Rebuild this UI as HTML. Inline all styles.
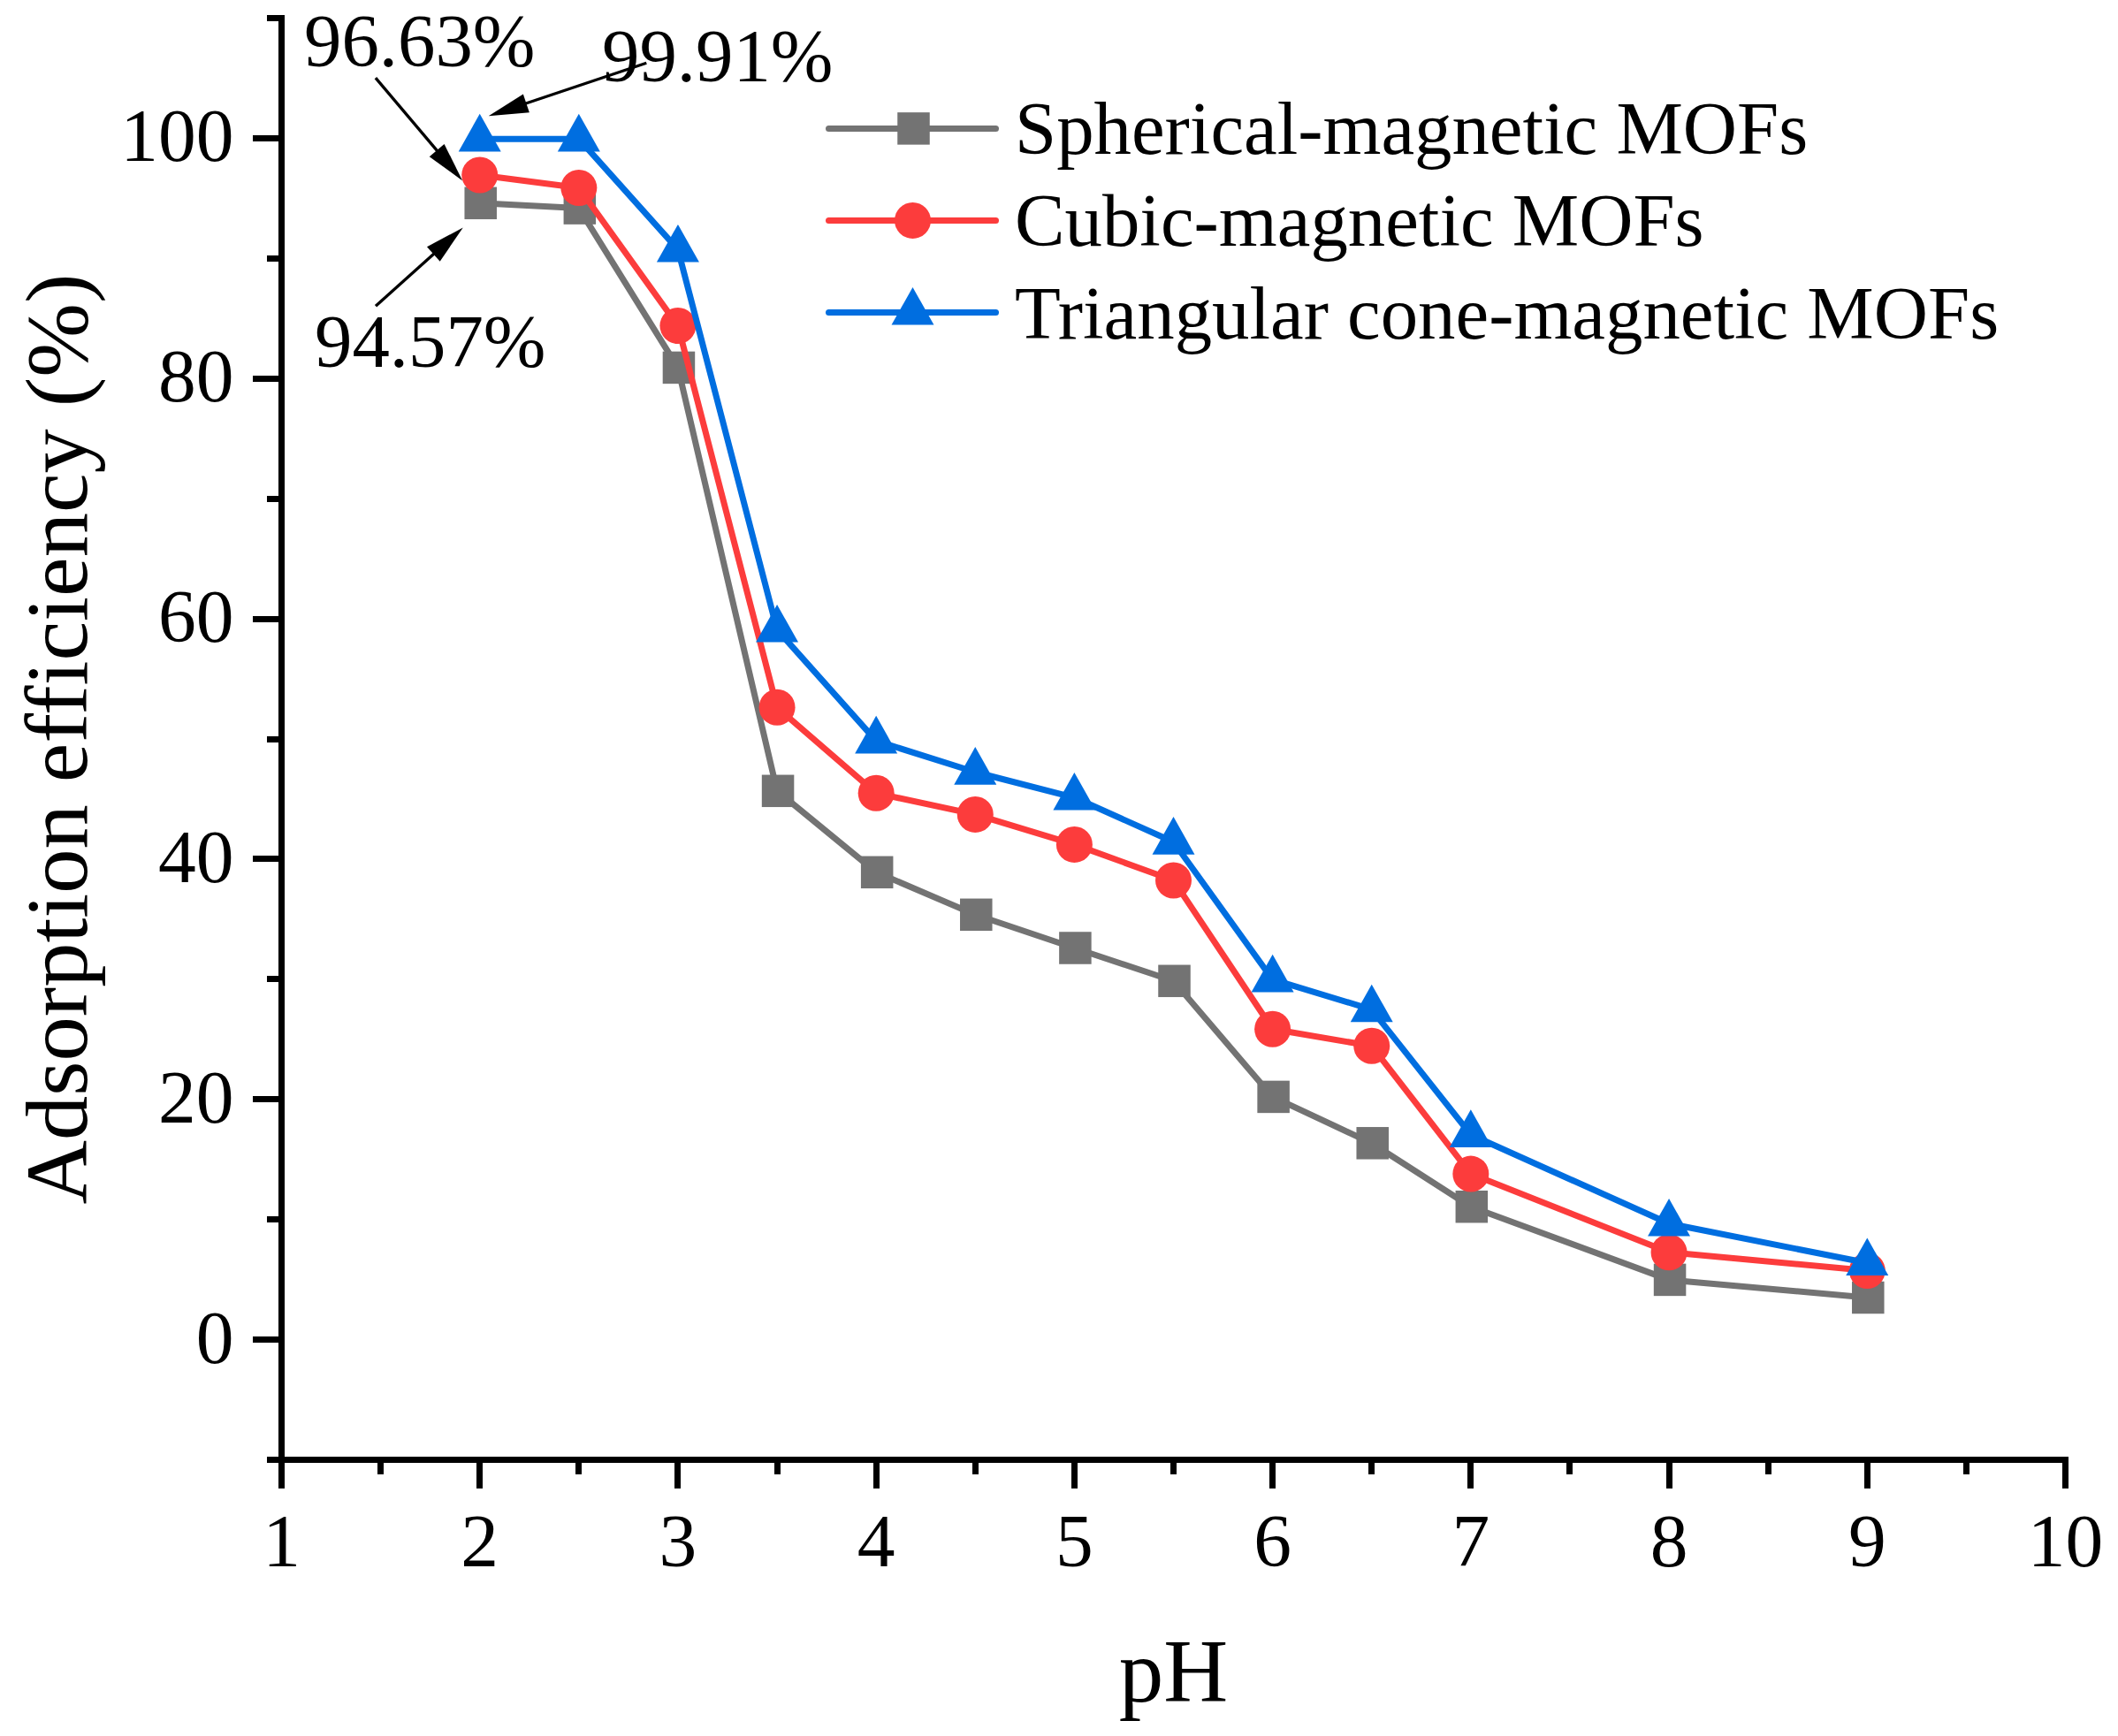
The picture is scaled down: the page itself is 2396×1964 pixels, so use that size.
<!DOCTYPE html>
<html><head><meta charset="utf-8"><title>Adsorption efficiency vs pH</title>
<style>
html,body{margin:0;padding:0;background:#fff;}
body{width:2396px;height:1964px;overflow:hidden;}
svg{display:block;}
text{font-family:'Liberation Serif','Times New Roman',serif;fill:#000;}
</style></head><body>
<svg width="2396" height="1964" viewBox="0 0 2396 1964">
<rect width="2396" height="1964" fill="#fff"/>

<g fill="#000" shape-rendering="crispEdges">
<rect x="315" y="17" width="7" height="1638"/>
<rect x="315" y="1648" width="2025" height="7"/>
<rect x="302" y="1648.02" width="13" height="7"/>
<rect x="286" y="1512.10" width="29" height="7"/>
<rect x="302" y="1376.18" width="13" height="7"/>
<rect x="286" y="1240.27" width="29" height="7"/>
<rect x="302" y="1104.35" width="13" height="7"/>
<rect x="286" y="968.43" width="29" height="7"/>
<rect x="302" y="832.51" width="13" height="7"/>
<rect x="286" y="696.60" width="29" height="7"/>
<rect x="302" y="560.68" width="13" height="7"/>
<rect x="286" y="424.76" width="29" height="7"/>
<rect x="302" y="288.85" width="13" height="7"/>
<rect x="286" y="152.93" width="29" height="7"/>
<rect x="302" y="17.01" width="13" height="7"/>
<rect x="315.00" y="1655" width="7" height="29"/>
<rect x="427.11" y="1655" width="7" height="13"/>
<rect x="539.22" y="1655" width="7" height="29"/>
<rect x="651.33" y="1655" width="7" height="13"/>
<rect x="763.44" y="1655" width="7" height="29"/>
<rect x="875.56" y="1655" width="7" height="13"/>
<rect x="987.67" y="1655" width="7" height="29"/>
<rect x="1099.78" y="1655" width="7" height="13"/>
<rect x="1211.89" y="1655" width="7" height="29"/>
<rect x="1324.00" y="1655" width="7" height="13"/>
<rect x="1436.11" y="1655" width="7" height="29"/>
<rect x="1548.22" y="1655" width="7" height="13"/>
<rect x="1660.33" y="1655" width="7" height="29"/>
<rect x="1772.44" y="1655" width="7" height="13"/>
<rect x="1884.56" y="1655" width="7" height="29"/>
<rect x="1996.67" y="1655" width="7" height="13"/>
<rect x="2108.78" y="1655" width="7" height="29"/>
<rect x="2220.89" y="1655" width="7" height="13"/>
<rect x="2333.00" y="1655" width="7" height="29"/>
</g>
<g font-size="85.5" text-anchor="middle">
<text x="318.50" y="1772">1</text>
<text x="542.72" y="1772">2</text>
<text x="766.94" y="1772">3</text>
<text x="991.17" y="1772">4</text>
<text x="1215.39" y="1772">5</text>
<text x="1439.61" y="1772">6</text>
<text x="1663.83" y="1772">7</text>
<text x="1888.06" y="1772">8</text>
<text x="2112.28" y="1772">9</text>
<text x="2336.50" y="1772">10</text>
</g>
<g font-size="85.5" text-anchor="end">
<text x="264.5" y="1541.60">0</text>
<text x="264.5" y="1269.77">20</text>
<text x="264.5" y="997.93">40</text>
<text x="264.5" y="726.10">60</text>
<text x="264.5" y="454.26">80</text>
<text x="264.5" y="182.43">100</text>
</g>
<text x="1327.5" y="1925" font-size="101" text-anchor="middle">pH</text>
<text transform="translate(98,836) rotate(-90)" font-size="100.5" text-anchor="middle">Adsorption efficiency (%)</text>
<polyline points="542.72,229.80 654.83,235.60 766.94,415.90 879.06,894.80 991.17,986.80 1103.28,1034.80 1215.39,1072.50 1327.50,1109.80 1439.61,1240.90 1551.72,1293.30 1663.83,1365.20 1888.06,1447.90 2112.28,1468.00" fill="none" stroke="#737373" stroke-width="7" stroke-linejoin="round" stroke-linecap="round"/>
<g fill="#737373">
<rect x="525.47" y="211.55" width="36.5" height="36.5"/>
<rect x="637.58" y="217.35" width="36.5" height="36.5"/>
<rect x="749.69" y="397.65" width="36.5" height="36.5"/>
<rect x="861.81" y="876.55" width="36.5" height="36.5"/>
<rect x="973.92" y="968.55" width="36.5" height="36.5"/>
<rect x="1086.03" y="1016.55" width="36.5" height="36.5"/>
<rect x="1198.14" y="1054.25" width="36.5" height="36.5"/>
<rect x="1310.25" y="1091.55" width="36.5" height="36.5"/>
<rect x="1422.36" y="1222.65" width="36.5" height="36.5"/>
<rect x="1534.47" y="1275.05" width="36.5" height="36.5"/>
<rect x="1646.58" y="1346.95" width="36.5" height="36.5"/>
<rect x="1870.81" y="1429.65" width="36.5" height="36.5"/>
<rect x="2095.03" y="1449.75" width="36.5" height="36.5"/>
</g>
<polyline points="542.72,198.00 654.83,212.50 766.94,368.50 879.06,800.30 991.17,897.30 1103.28,921.40 1215.39,955.40 1327.50,996.00 1439.61,1164.30 1551.72,1183.30 1663.83,1328.10 1888.06,1416.80 2112.28,1437.50" fill="none" stroke="#FC3C3C" stroke-width="7" stroke-linejoin="round" stroke-linecap="round"/>
<g fill="#FC3C3C">
<circle cx="542.72" cy="198.00" r="20.5"/>
<circle cx="654.83" cy="212.50" r="20.5"/>
<circle cx="766.94" cy="368.50" r="20.5"/>
<circle cx="879.06" cy="800.30" r="20.5"/>
<circle cx="991.17" cy="897.30" r="20.5"/>
<circle cx="1103.28" cy="921.40" r="20.5"/>
<circle cx="1215.39" cy="955.40" r="20.5"/>
<circle cx="1327.50" cy="996.00" r="20.5"/>
<circle cx="1439.61" cy="1164.30" r="20.5"/>
<circle cx="1551.72" cy="1183.30" r="20.5"/>
<circle cx="1663.83" cy="1328.10" r="20.5"/>
<circle cx="1888.06" cy="1416.80" r="20.5"/>
<circle cx="2112.28" cy="1437.50" r="20.5"/>
</g>
<polyline points="542.72,157.20 654.83,157.20 766.94,282.30 879.06,712.30 991.17,838.20 1103.28,873.50 1215.39,902.30 1327.50,952.50 1439.61,1108.20 1551.72,1142.10 1663.83,1283.70 1888.06,1384.30 2112.28,1428.80" fill="none" stroke="#006EE0" stroke-width="7" stroke-linejoin="round" stroke-linecap="round"/>
<g fill="#006EE0">
<path d="M542.72,128.80L566.72,171.40L518.72,171.40Z"/>
<path d="M654.83,128.80L678.83,171.40L630.83,171.40Z"/>
<path d="M766.94,253.90L790.94,296.50L742.94,296.50Z"/>
<path d="M879.06,683.90L903.06,726.50L855.06,726.50Z"/>
<path d="M991.17,809.80L1015.17,852.40L967.17,852.40Z"/>
<path d="M1103.28,845.10L1127.28,887.70L1079.28,887.70Z"/>
<path d="M1215.39,873.90L1239.39,916.50L1191.39,916.50Z"/>
<path d="M1327.50,924.10L1351.50,966.70L1303.50,966.70Z"/>
<path d="M1439.61,1079.80L1463.61,1122.40L1415.61,1122.40Z"/>
<path d="M1551.72,1113.70L1575.72,1156.30L1527.72,1156.30Z"/>
<path d="M1663.83,1255.30L1687.83,1297.90L1639.83,1297.90Z"/>
<path d="M1888.06,1355.90L1912.06,1398.50L1864.06,1398.50Z"/>
<path d="M2112.28,1400.40L2136.28,1443.00L2088.28,1443.00Z"/>
</g>
<line x1="937.5" y1="145.40" x2="1126.5" y2="145.40" stroke="#737373" stroke-width="7" stroke-linecap="round"/>
<g fill="#737373"><rect x="1015.25" y="127.15" width="36.5" height="36.5"/></g>
<text x="1148" y="173.50" font-size="84.8">Spherical-magnetic MOFs</text>
<line x1="937.5" y1="249.40" x2="1126.5" y2="249.40" stroke="#FC3C3C" stroke-width="7" stroke-linecap="round"/>
<g fill="#FC3C3C"><circle cx="1032.50" cy="249.40" r="20.5"/></g>
<text x="1148" y="278.10" font-size="84.8">Cubic-magnetic MOFs</text>
<line x1="937.5" y1="353.40" x2="1126.5" y2="353.40" stroke="#006EE0" stroke-width="7" stroke-linecap="round"/>
<g fill="#006EE0"><path d="M1032.50,325.00L1056.50,367.60L1008.50,367.60Z"/></g>
<text x="1148" y="382.70" font-size="84.8">Triangular cone-magnetic MOFs</text>
<g font-size="84.8">
<text x="344" y="75">96.63%</text>
<text x="681" y="92">99.91%</text>
<text x="356" y="415">94.57%</text>
</g>
<line x1="424.90" y1="88.10" x2="495.44" y2="171.56" stroke="#000" stroke-width="3.3"/><path d="M523.20,204.40L485.75,177.13L502.55,162.93Z" fill="#000"/>
<line x1="731.30" y1="71.20" x2="593.46" y2="117.51" stroke="#000" stroke-width="3.3"/><path d="M552.70,131.20L591.85,106.44L598.86,127.30Z" fill="#000"/>
<line x1="425.00" y1="346.30" x2="491.84" y2="286.16" stroke="#000" stroke-width="3.3"/><path d="M523.80,257.40L497.71,295.68L482.99,279.32Z" fill="#000"/>
</svg>
</body></html>
